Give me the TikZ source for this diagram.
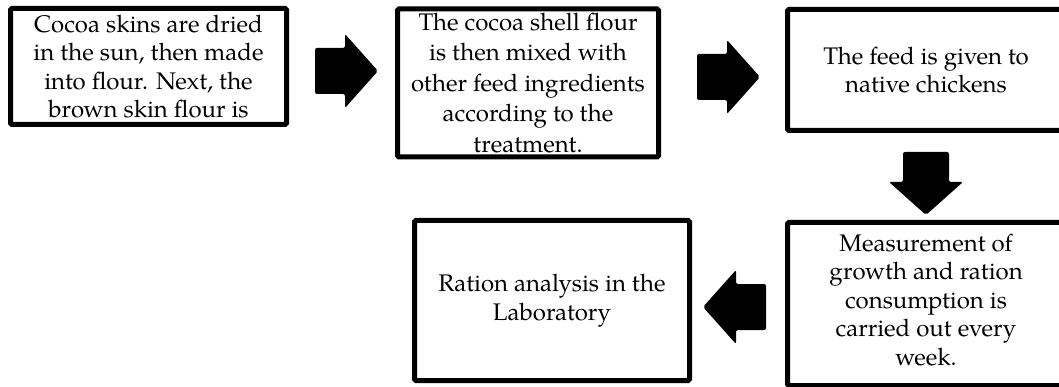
\documentclass[tikz,border=0pt]{standalone}
\usepackage{fontspec}
\setmainfont{texgyrepagella}[Extension=.otf, UprightFont=*-regular]
\begin{document}
\begin{tikzpicture}[x=1pt,y=-1pt,
    stepbox/.style={draw, line width=5pt, rounded corners=1.5pt, align=center,
      inner sep=0pt, font=\fontsize{24}{28.5}\selectfont},
    pics/fatarrow/.style={code={
      \fill[rounded corners=2pt] (0,-23) -- (30,-23) -- (30,-37) -- (63,0)
        -- (30,37) -- (30,23) -- (0,23) -- cycle;}}]
    \useasboundingbox (0,0) rectangle (1059,387);
    % process steps
    \node[stepbox, minimum width=276, minimum height=116] (dry) at (148.5,66.5)
      {Cocoa skins are dried\\in the sun, then made\\into flour. Next, the\\brown skin flour is};
    \node[stepbox, minimum width=261, minimum height=148, font=\fontsize{24}{30.5}\selectfont]
      (mix) at (528,83) {The cocoa shell flour\\is then mixed with\\other feed ingredients\\according to the\\treatment.};
    \node[stepbox, minimum width=277, minimum height=121] (feed) at (926,70)
      {The feed is given to\\native chickens};
    \node[stepbox, minimum width=277, minimum height=163] (measure) at (926,304)
      {\\[-20pt]Measurement of\\growth and ration\\consumption is\\carried out every\\week.};
    \node[stepbox, minimum width=275, minimum height=160] (lab) at (552,300.5)
      {Ration analysis in the\\Laboratory};
    % block arrows
    \pic at (315,71) {fatarrow};
    \pic at (697,77) {fatarrow};
    \pic[rotate=-90] at (926,152) {fatarrow};
    \pic[rotate=180] at (766,307) {fatarrow};
\end{tikzpicture}
\end{document}
